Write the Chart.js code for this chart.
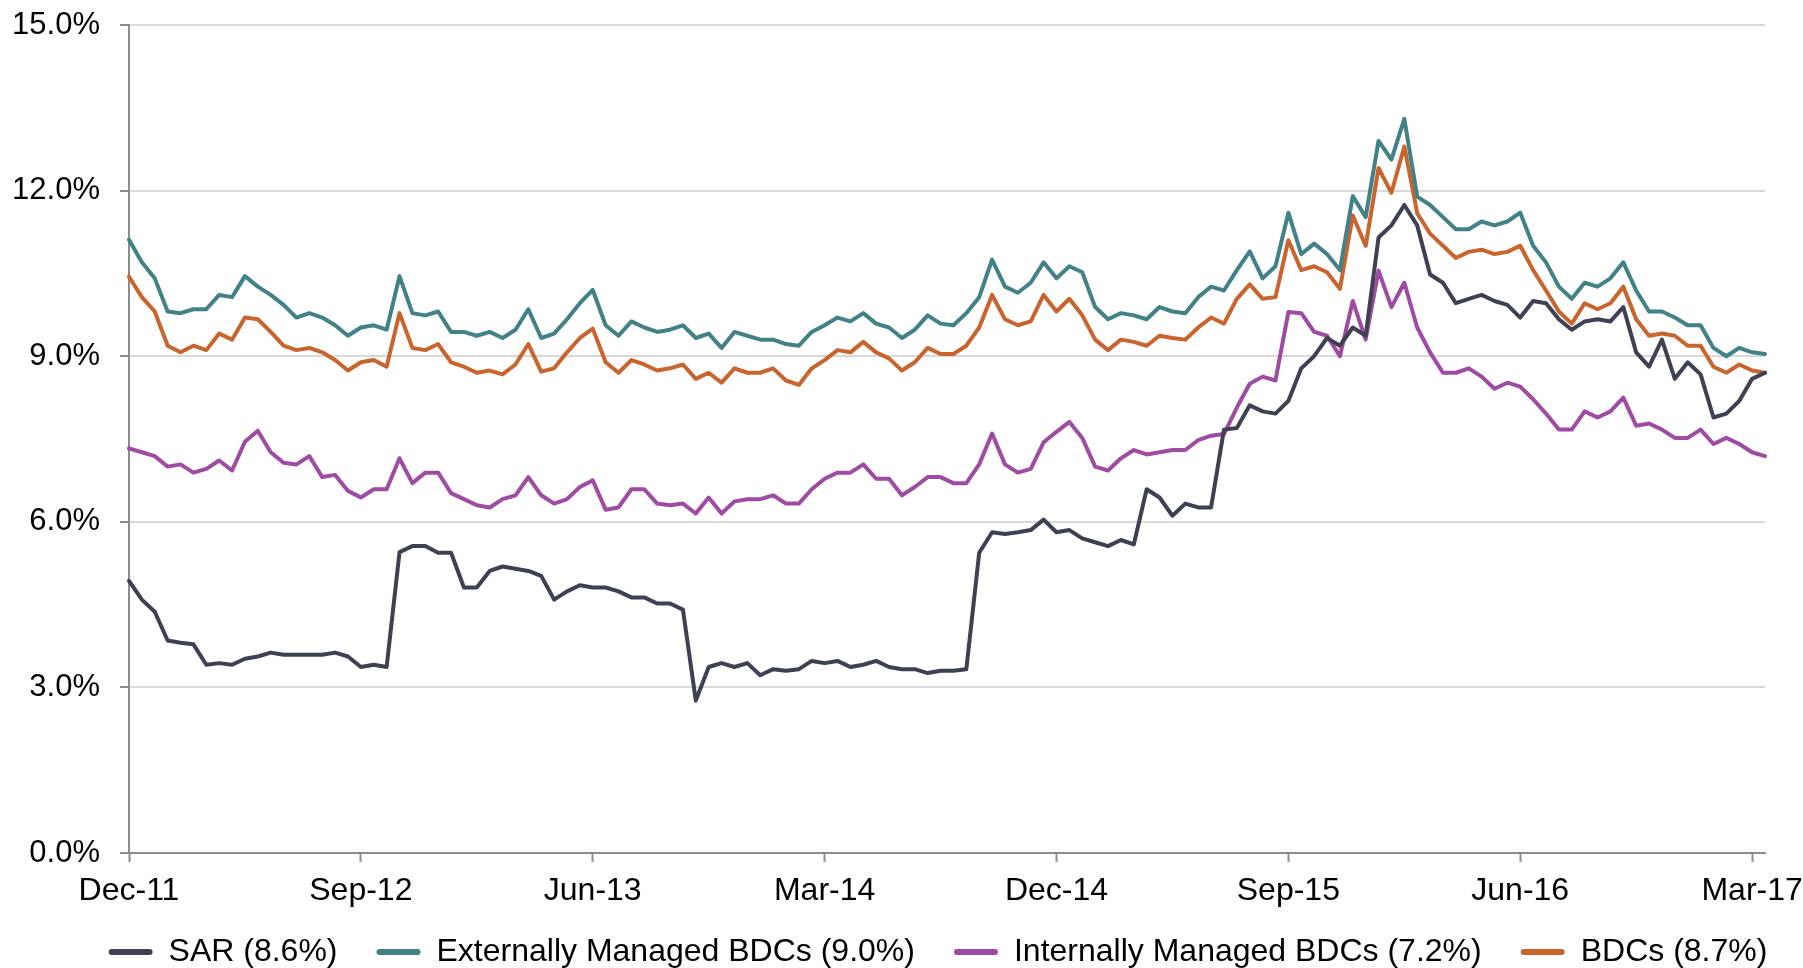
<!DOCTYPE html>
<html>
<head>
<meta charset="utf-8">
<script src="https://cdn.jsdelivr.net/npm/chart.js@4/dist/chart.umd.min.js"></script>
<style>
  html, body { margin: 0; padding: 0; background: #ffffff; }
  #wrap { width: 1803px; height: 968px; position: relative; }
</style>
</head>
<body>
<div id="wrap"><canvas id="c" width="1803" height="968"></canvas></div>
<script>
// Half-month observations from Dec-11 to Mar-17 (values in %)
const tickLabels = ['Dec-11', 'Sep-12', 'Jun-13', 'Mar-14', 'Dec-14', 'Sep-15', 'Jun-16', 'Mar-17'];
const seriesNames = ['SAR (8.6%)', 'Externally Managed BDCs (9.0%)', 'Internally Managed BDCs (7.2%)', 'BDCs (8.7%)'];

const sar = [
  4.93, 4.59, 4.37, 3.85, 3.81, 3.78, 3.41, 3.44,
  3.41, 3.52, 3.56, 3.63, 3.59, 3.59, 3.59, 3.59,
  3.63, 3.56, 3.37, 3.41, 3.37, 5.45, 5.56, 5.56,
  5.44, 5.44, 4.81, 4.81, 5.11, 5.19, 5.15, 5.11,
  5.02, 4.59, 4.74, 4.85, 4.81, 4.81, 4.74, 4.63,
  4.63, 4.52, 4.52, 4.41, 2.76, 3.37, 3.44, 3.37,
  3.44, 3.22, 3.33, 3.30, 3.33, 3.48, 3.44, 3.48,
  3.37, 3.41, 3.48, 3.37, 3.33, 3.33, 3.26, 3.30,
  3.30, 3.33, 5.44, 5.81, 5.78, 5.81, 5.85, 6.04,
  5.81, 5.85, 5.70, 5.63, 5.56, 5.67, 5.59, 6.59,
  6.44, 6.11, 6.33, 6.26, 6.26, 7.67, 7.70, 8.11,
  8.00, 7.96, 8.19, 8.78, 9.00, 9.33, 9.19, 9.52,
  9.37, 11.15, 11.37, 11.74, 11.37, 10.48, 10.33, 9.96,
  10.04, 10.11, 10.00, 9.93, 9.70, 10.00, 9.96, 9.67,
  9.48, 9.63, 9.67, 9.63, 9.89, 9.07, 8.81, 9.30,
  8.59, 8.89, 8.67, 7.89, 7.96, 8.19, 8.59, 8.70
];
const externalBDC = [
  11.11, 10.70, 10.41, 9.81, 9.78, 9.85, 9.85, 10.11,
  10.07, 10.45, 10.26, 10.11, 9.93, 9.70, 9.78, 9.70,
  9.56, 9.37, 9.52, 9.56, 9.48, 10.45, 9.78, 9.74,
  9.81, 9.44, 9.44, 9.37, 9.44, 9.33, 9.48, 9.85,
  9.33, 9.41, 9.67, 9.96, 10.20, 9.56, 9.37, 9.63,
  9.52, 9.44, 9.48, 9.56, 9.33, 9.41, 9.15, 9.44,
  9.37, 9.30, 9.30, 9.22, 9.19, 9.44, 9.56, 9.70,
  9.63, 9.78, 9.59, 9.52, 9.33, 9.48, 9.74, 9.59,
  9.56, 9.78, 10.07, 10.75, 10.26, 10.15, 10.33, 10.70,
  10.41, 10.63, 10.52, 9.89, 9.67, 9.78, 9.74, 9.67,
  9.89, 9.81, 9.78, 10.07, 10.26, 10.19, 10.56, 10.90,
  10.41, 10.63, 11.60, 10.85, 11.04, 10.85, 10.56, 11.90,
  11.52, 12.90, 12.56, 13.30, 11.89, 11.74, 11.52, 11.30,
  11.30, 11.44, 11.37, 11.44, 11.60, 11.00, 10.70, 10.26,
  10.04, 10.33, 10.26, 10.41, 10.70, 10.19, 9.81, 9.81,
  9.70, 9.56, 9.56, 9.15, 9.00, 9.15, 9.07, 9.04
];
const internalBDC = [
  7.33, 7.26, 7.19, 7.00, 7.04, 6.89, 6.96, 7.11,
  6.93, 7.45, 7.65, 7.26, 7.07, 7.04, 7.19, 6.81,
  6.85, 6.56, 6.44, 6.59, 6.59, 7.15, 6.70, 6.89,
  6.89, 6.52, 6.41, 6.30, 6.26, 6.41, 6.48, 6.81,
  6.48, 6.33, 6.41, 6.63, 6.75, 6.22, 6.26, 6.59,
  6.59, 6.33, 6.30, 6.33, 6.15, 6.44, 6.15, 6.37,
  6.41, 6.41, 6.48, 6.33, 6.33, 6.59, 6.78, 6.89,
  6.89, 7.04, 6.78, 6.78, 6.48, 6.63, 6.81, 6.81,
  6.70, 6.70, 7.04, 7.60, 7.04, 6.89, 6.96, 7.44,
  7.63, 7.81, 7.52, 7.00, 6.93, 7.15, 7.30, 7.22,
  7.26, 7.30, 7.30, 7.48, 7.56, 7.59, 8.07, 8.50,
  8.63, 8.56, 9.80, 9.78, 9.44, 9.37, 9.00, 10.00,
  9.30, 10.55, 9.89, 10.33, 9.52, 9.07, 8.70, 8.70,
  8.78, 8.63, 8.41, 8.52, 8.45, 8.22, 7.96, 7.67,
  7.67, 8.00, 7.89, 8.00, 8.25, 7.74, 7.78, 7.67,
  7.52, 7.52, 7.67, 7.41, 7.52, 7.41, 7.26, 7.19
];
const allBDC = [
  10.44, 10.07, 9.81, 9.19, 9.07, 9.19, 9.11, 9.41,
  9.30, 9.70, 9.67, 9.44, 9.19, 9.11, 9.15, 9.07,
  8.93, 8.74, 8.89, 8.93, 8.81, 9.78, 9.15, 9.11,
  9.22, 8.89, 8.81, 8.70, 8.74, 8.67, 8.85, 9.22,
  8.72, 8.78, 9.07, 9.33, 9.50, 8.89, 8.70, 8.93,
  8.85, 8.74, 8.78, 8.85, 8.59, 8.70, 8.52, 8.78,
  8.70, 8.70, 8.78, 8.56, 8.48, 8.78, 8.93, 9.11,
  9.07, 9.26, 9.07, 8.96, 8.74, 8.89, 9.15, 9.04,
  9.04, 9.19, 9.52, 10.11, 9.67, 9.56, 9.63, 10.11,
  9.81, 10.04, 9.74, 9.30, 9.11, 9.30, 9.26, 9.19,
  9.37, 9.33, 9.30, 9.52, 9.70, 9.59, 10.04, 10.30,
  10.04, 10.07, 11.10, 10.56, 10.63, 10.52, 10.22, 11.55,
  11.00, 12.41, 11.96, 12.80, 11.59, 11.22, 11.00, 10.78,
  10.89, 10.93, 10.85, 10.89, 11.00, 10.56, 10.19, 9.81,
  9.59, 9.96, 9.85, 9.96, 10.26, 9.67, 9.37, 9.41,
  9.37, 9.19, 9.19, 8.81, 8.70, 8.85, 8.74, 8.70
];

const colors = ['#3f4153', '#428186', '#9e4ca2', '#c8652e'];
const labels = sar.map((_, i) => i);
const TICK_EVERY = 18; // one labelled tick every 9 months (18 half-month steps)
const FONT = "'Liberation Sans', Arial, sans-serif";

const mk = (name, data, color) => ({
  label: name, data: data, borderColor: color, backgroundColor: color,
  borderWidth: 4, pointRadius: 0, tension: 0, borderJoinStyle: 'round', borderCapStyle: 'round'
});

const legendShift = {
  id: 'legendShift',
  afterLayout(chart) {
    const lg = chart.legend;
    if (lg) { lg.left += 49; lg.right += 49; lg.top -= 12; }
  }
};

new Chart(document.getElementById('c'), {
  type: 'line',
  data: {
    labels: labels,
    datasets: [
      mk(seriesNames[0], sar, colors[0]),
      mk(seriesNames[1], externalBDC, colors[1]),
      mk(seriesNames[2], internalBDC, colors[2]),
      mk(seriesNames[3], allBDC, colors[3])
    ]
  },
  options: {
    responsive: false,
    animation: false,
    layout: { padding: { top: 25, left: 13, right: 38, bottom: 0 } },
    plugins: {
      tooltip: { enabled: false },
      legend: {
        position: 'bottom',
        maxHeight: 59,
        labels: {
          font: { family: FONT, size: 32 },
          color: '#000000',
          boxWidth: 44,
          boxHeight: 6,
          padding: 39,
          useBorderRadius: true,
          borderRadius: 3,
          generateLabels(chart) {
            return chart.data.datasets.map((ds, i) => ({
              text: ds.label, fillStyle: ds.borderColor, strokeStyle: ds.borderColor,
              lineWidth: 0, hidden: false, datasetIndex: i, fontColor: '#000000', borderRadius: 3
            }));
          }
        }
      }
    },
    scales: {
      x: {
        type: 'category',
        offset: false,
        afterBuildTicks(axis) { axis.ticks = axis.ticks.filter(t => t.value % TICK_EVERY === 0); },
        afterFit(axis) { axis.height = 56; axis.paddingLeft = 0; axis.paddingRight = 0; },
        grid: { display: true, drawOnChartArea: false, drawTicks: true, tickLength: 9, tickColor: '#8c8c8c', tickWidth: 2 },
        border: { display: true, color: '#8c8c8c', width: 2 },
        ticks: {
          autoSkip: false, maxRotation: 0, minRotation: 0, padding: 13,
          font: { family: FONT, size: 32, lineHeight: 1 }, color: '#000000',
          callback(value) { return tickLabels[value / TICK_EVERY]; }
        }
      },
      y: {
        min: 0, max: 15,
        afterFit(axis) { axis.width = 116; axis.paddingTop = 0; axis.paddingBottom = 0; },
        grid: { color: '#d9d9d9', lineWidth: 2, drawTicks: true, tickLength: 9, tickColor: '#8c8c8c', tickWidth: 2 },
        border: { display: true, color: '#8c8c8c', width: 2 },
        ticks: {
          stepSize: 3, padding: 20,
          font: { family: FONT, size: 31 }, color: '#000000',
          callback(v) { return v.toFixed(1) + '%'; }
        }
      }
    }
  },
  plugins: [legendShift]
});
</script>
</body>
</html>
